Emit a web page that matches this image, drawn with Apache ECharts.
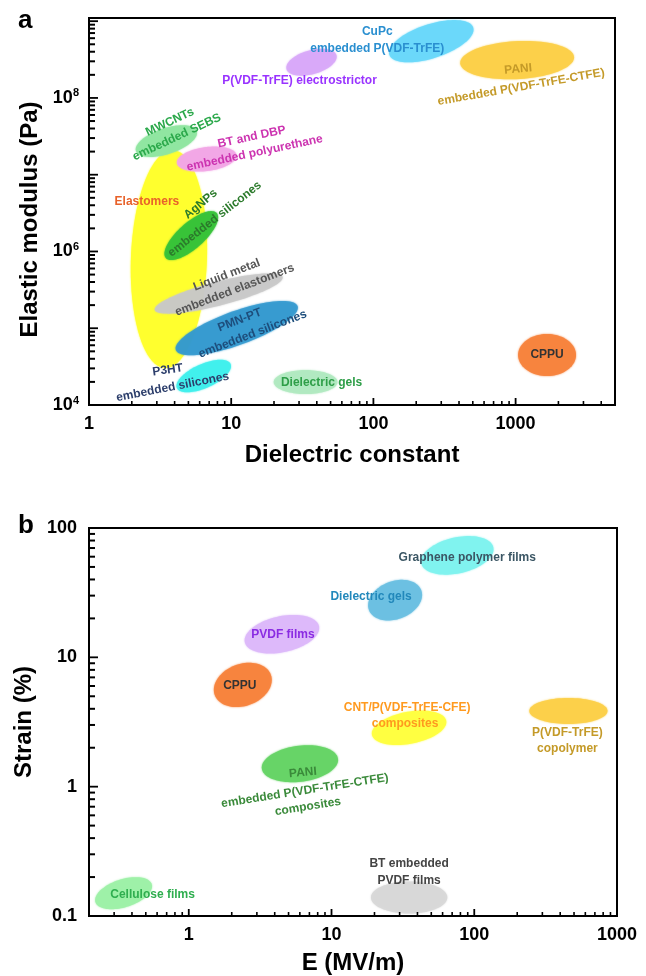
<!DOCTYPE html>
<html><head><meta charset="utf-8">
<script src="https://cdn.jsdelivr.net/npm/echarts@6/dist/echarts.min.js"></script>
<style>html,body{margin:0;padding:0;background:#fff}#c{width:646px;height:976px}</style>
</head><body><div id="c"></div>
<script>
// ================= DATA =================
// axis ranges and tick labels
const aXRange = [1, 5000];
const aYRange = [1e4, 1.1e9];
const bXRange = [0.2, 1000];
const bYRange = [0.1, 100];
const aXTickLabels = [1, 10, 100, 1000];
const aYTickLabels = [1e4, 1e6, 1e8];
const aXMajorTicks = [1, 10, 100, 1000];
const aYMajorTicks = [1e4, 1e5, 1e6, 1e7, 1e8, 1e9];
const bXTickLabels = [1, 10, 100, 1000];
const bYTickLabels = [0.1, 1, 10, 100];

// Panel a: each region = long axis from (EpsFrom, ModFrom) to (EpsTo, ModTo)
const aNames = ['Elastomers', 'MWCNTs\nembedded SEBS', 'BT and DBP\nembedded polyurethane',
  'AgNPs\nembedded silicones', 'Liquid metal\nembedded elastomers', 'PMN-PT\nembedded silicones',
  'P3HT\nembedded silicones', 'Dielectric gels', 'CPPU', 'P(VDF-TrFE) electrostrictor',
  'CuPc\nembedded P(VDF-TrFE)', 'PANI\nembedded P(VDF-TrFE-CTFE)'];
const aEpsFrom = [3.89, 2.14, 4.15, 3.47, 2.90, 4.08, 4.15, 19.9, 1041, 24.5, 129.5, 408];
const aModFrom = [2.09e7, 2.03e7, 1.42e7, 8.2e5, 1.73e5, 5.2e4, 1.66e4, 1.99e4, 4.48e4, 2.37e8, 3.65e8, 2.84e8];
const aEpsTo = [3.42, 5.73, 10.9, 7.91, 23.0, 29.3, 9.9, 55.9, 2660, 55.0, 503, 2575];
const aModTo = [3.03e4, 3.70e7, 1.80e7, 3.16e6, 4.64e5, 1.94e5, 3.42e4, 1.99e4, 4.48e4, 3.6e8, 8.26e8, 3.40e8];

// Panel b
const bNames = ['Graphene polymer films', 'Dielectric gels', 'PVDF films', 'CPPU',
  'CNT/P(VDF-TrFE-CFE)\ncomposites', 'P(VDF-TrFE)\ncopolymer',
  'PANI\nembedded P(VDF-TrFE-CTFE)\ncomposites', 'BT embedded\nPVDF films', 'Cellulose films'];
const bEFrom = [42.5, 18.3, 2.47, 1.52, 19.2, 243, 3.25, 18.9, 0.222];
const bStrainFrom = [53.3, 23.2, 13.1, 5.12, 2.52, 3.85, 1.38, 0.139, 0.128];
const bETo = [136, 42.5, 8.17, 3.76, 63.6, 858, 11.1, 64.7, 0.550];
const bStrainTo = [70.8, 33.0, 17.4, 7.31, 3.23, 3.85, 1.64, 0.139, 0.176];

// ================= STYLE / LAYOUT =================
const FONT = '"Liberation Sans", Arial, sans-serif';
const aMinor = [38, 13, 12, 13, 12, 17, 12, 12, 21, 12, 17, 19];
const aFill = ['#ffff2e', '#8fe6a0', '#f2a6e6', '#36c238', '#c8c8c8', '#3399cf', '#3ff0ec', '#b0e9c0', '#f7843e', '#d8a8f8', '#6ad8fa', '#fcd04a'];
const aOpacity = [1, 0.9, 0.9, 0.9, 0.85, 0.85, 0.9, 0.9, 0.95, 0.9, 0.95, 0.95];
const aText = ['#e8622a', '#2aa84a', '#cc33b0', '#2b7a2b', '#555555', '#1d4e7c', '#2c3e6b', '#2e9e48', '#333333', '#9933ff', '#2a8fd0', '#c49a28'];
const aLayout = [
  [[-22, -57, 0]],
  [[3.5, -19, 25], [10.5, -4, 25]],
  [[45, -22, 12], [48, -6, 12]],
  [[9.5, -31.5, 40], [23.5, -16.5, 38]],
  [[8, -18.5, 21], [16, -3.5, 21]],
  [[3, -8, 21], [16, 6, 21]],
  [[-36, -6, 8], [-31, 11, 11]],
  [[16, 1, 0]],
  [[0, 0, 0]],
  [[-12, 18, 0]],
  [[-54, -9, 0], [-54, 8, 0]],
  [[1, 9, 5], [4, 27, 10]]
];
const bMinor = [18, 19, 18, 21, 16, 13, 18, 16, 14];
const bFill = ['#80f2ee', '#6cc0e2', '#dcb8fa', '#f7843e', '#ffff40', '#fcd04a', '#66d466', '#d8d8d8', '#9ef0a8'];
const bOpacity = [0.95, 0.95, 0.95, 0.95, 0.95, 0.95, 0.95, 0.95, 0.95];
const bText = ['#3b5664', '#2288bb', '#8a2be2', '#333333', '#ff9a1f', '#c49a28', '#3a8a3a', '#444444', '#2fae4f'];
const bLayout = [
  [[10, 2, 0]],
  [[-24, -3, 0]],
  [[1, 0, 0]],
  [[-3, 1, 0]],
  [[-2, -20, 0], [-4, -4, 0]],
  [[-1, 22, 0], [-1, 38, 0]],
  [[3, 9, 5], [5, 27, 9], [8, 43, 9]],
  [[0, -34, 0], [0, -17, 0]],
  [[29, 1, 0]]
];

// ================= BUILD =================
// 2..9 x 10^e ticks between decades, inside (lo, hi)
function minorTicks(e0, e1, lo, hi) {
  const out = [];
  for (let e = e0; e <= e1; e++) for (let m = 2; m <= 9; m++) {
    const v = +(m * Math.pow(10, e)).toPrecision(6);
    if (v > lo && v < hi) out.push(v);
  }
  return out;
}
// one custom series per tick set; ticks point into the plot
function tickSeries(axisIdx, values, other, isX, len, width) {
  return {
    type: 'custom', xAxisIndex: axisIdx, yAxisIndex: axisIdx, z: 6, clip: false, silent: true,
    data: values.map(v => isX ? [v, other] : [other, v]), encode: { x: 0, y: 1 },
    renderItem: function (params, api) {
      const p = api.coord([api.value(0), api.value(1)]);
      const shape = isX ? { x1: p[0], y1: p[1], x2: p[0], y2: p[1] - len }
                        : { x1: p[0], y1: p[1], x2: p[0] + len, y2: p[1] };
      return { type: 'line', shape: shape, style: { stroke: '#000', lineWidth: width } };
    }
  };
}
function ends(api) {
  return [api.coord([api.value(0), api.value(1)]), api.coord([api.value(2), api.value(3)])];
}
function ellipseRenderer(minor, fill, opacity) {
  return function (params, api) {
    const i = params.dataIndex;
    const [p1, p2] = ends(api);
    const cx = (p1[0] + p2[0]) / 2, cy = (p1[1] + p2[1]) / 2;
    const dx = p2[0] - p1[0], dy = p2[1] - p1[1];
    const a = Math.sqrt(dx * dx + dy * dy) / 2, b = minor[i];
    const th = Math.atan2(dy, dx), c = Math.cos(th), s = Math.sin(th);
    const pts = [];
    for (let k = 0; k < 90; k++) {
      const t = k / 90 * Math.PI * 2;
      const u = a * Math.cos(t), v = b * Math.sin(t);
      pts.push([cx + u * c - v * s, cy + u * s + v * c]);
    }
    return { type: 'polygon', shape: { points: pts },
      style: { fill: fill[i], opacity: opacity[i], shadowBlur: 2, shadowColor: fill[i] } };
  };
}
function labelRenderer(names, layout, colors) {
  return function (params, api) {
    const i = params.dataIndex;
    const [p1, p2] = ends(api);
    const cx = (p1[0] + p2[0]) / 2, cy = (p1[1] + p2[1]) / 2;
    const lines = names[i].split('\n');
    return { type: 'group', children: lines.map((t, j) => ({
      type: 'text', x: cx + layout[i][j][0], y: cy + layout[i][j][1],
      rotation: layout[i][j][2] * Math.PI / 180,
      style: { text: t, fill: colors[i], font: 'bold 12px ' + FONT, align: 'center', verticalAlign: 'middle' }
    })) };
  };
}
const labelStyle = { color: '#000', fontSize: 18, fontWeight: 'bold', fontFamily: FONT };
const nameStyle = { color: '#000', fontSize: 24, fontWeight: 'bold', fontFamily: FONT };
function axis(grid, pos, range, labels, fmt, name, nameGap, margin, rich, namePad) {
  return {
    type: 'log', logBase: 10, gridIndex: grid, position: pos, min: range[0], max: range[1],
    name: name, nameLocation: 'middle', nameGap: nameGap,
    nameTextStyle: Object.assign({ padding: namePad || 0 }, nameStyle),
    axisLine: { show: true, lineStyle: { color: '#000', width: 2 } },
    axisTick: { show: false },
    axisLabel: Object.assign({ show: true, customValues: labels, formatter: fmt, margin: margin, rich: rich }, labelStyle),
    splitLine: { show: false }, minorTick: { show: false }, minorSplitLine: { show: false }
  };
}
const numFmt = v => String(+(+v).toPrecision(6));
const powFmt = v => '{m|10}{s|' + Math.round(Math.log10(v)) + '}';
const powRich = { m: { fontSize: 18, fontWeight: 'bold', fontFamily: FONT, color: '#000', lineHeight: 20 },
                  s: { fontSize: 11, fontWeight: 'bold', fontFamily: FONT, color: '#000', verticalAlign: 'top', lineHeight: 20 } };

const chart = echarts.init(document.getElementById('c'), null, { renderer: 'canvas' });
chart.setOption({
  animation: false,
  backgroundColor: '#fff',
  grid: [
    { left: 89, top: 18, width: 526, height: 387, show: true, borderColor: '#000', borderWidth: 2, backgroundColor: 'transparent' },
    { left: 89, top: 528, width: 528, height: 389, show: true, borderColor: '#000', borderWidth: 2, backgroundColor: 'transparent' }
  ],
  xAxis: [
    axis(0, 'bottom', aXRange, aXTickLabels, numFmt, 'Dielectric constant', 38, 10),
    axis(1, 'bottom', bXRange, bXTickLabels, numFmt, 'E (MV/m)', 35, 10)
  ],
  yAxis: [
    axis(0, 'left', aYRange, aYTickLabels, powFmt, 'Elastic modulus (Pa)', 47, 10, powRich, [0, 16, 0, 0]),
    axis(1, 'left', bYRange, bYTickLabels, numFmt, 'Strain (%)', 47, 12)
  ],
  graphic: [
    { type: 'text', left: 18, top: 8, style: { text: 'a', font: 'bold 26px ' + FONT, fill: '#000' } },
    { type: 'text', left: 18, top: 513, style: { text: 'b', font: 'bold 26px ' + FONT, fill: '#000' } }
  ],
  series: [
    { type: 'custom', xAxisIndex: 0, yAxisIndex: 0, z: 2, clip: false,
      data: aEpsFrom.map((v, i) => [v, aModFrom[i], aEpsTo[i], aModTo[i]]),
      encode: { x: [0, 2], y: [1, 3] }, renderItem: ellipseRenderer(aMinor, aFill, aOpacity) },
    { type: 'custom', xAxisIndex: 0, yAxisIndex: 0, z: 5, clip: false,
      data: aEpsFrom.map((v, i) => [v, aModFrom[i], aEpsTo[i], aModTo[i]]),
      encode: { x: [0, 2], y: [1, 3] }, renderItem: labelRenderer(aNames, aLayout, aText) },
    tickSeries(0, aXMajorTicks, aYRange[0], true, 7, 1.8),
    tickSeries(0, minorTicks(0, 3, aXRange[0], aXRange[1]), aYRange[0], true, 4, 1.6),
    tickSeries(0, aYMajorTicks, aXRange[0], false, 9, 1.8),
    tickSeries(0, minorTicks(4, 8, aYRange[0], aYRange[1]), aXRange[0], false, 6, 2),
    { type: 'custom', xAxisIndex: 1, yAxisIndex: 1, z: 2, clip: false,
      data: bEFrom.map((v, i) => [v, bStrainFrom[i], bETo[i], bStrainTo[i]]),
      encode: { x: [0, 2], y: [1, 3] }, renderItem: ellipseRenderer(bMinor, bFill, bOpacity) },
    { type: 'custom', xAxisIndex: 1, yAxisIndex: 1, z: 5, clip: false,
      data: bEFrom.map((v, i) => [v, bStrainFrom[i], bETo[i], bStrainTo[i]]),
      encode: { x: [0, 2], y: [1, 3] }, renderItem: labelRenderer(bNames, bLayout, bText) },
    tickSeries(1, bXTickLabels, bYRange[0], true, 7, 1.8),
    tickSeries(1, minorTicks(-1, 2, bXRange[0], bXRange[1]), bYRange[0], true, 4, 1.6),
    tickSeries(1, bYTickLabels, bXRange[0], false, 9, 1.8),
    tickSeries(1, minorTicks(-1, 1, bYRange[0], bYRange[1]), bXRange[0], false, 6, 2)
  ]
});
</script></body></html>
